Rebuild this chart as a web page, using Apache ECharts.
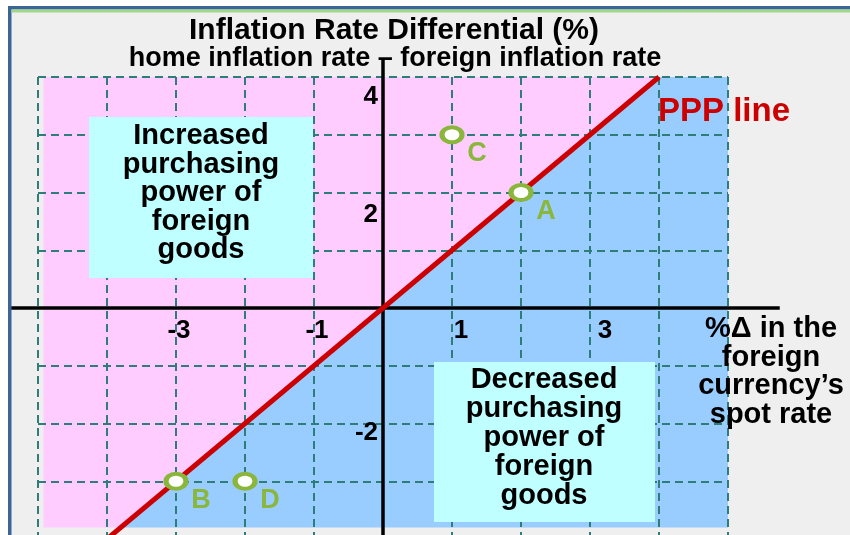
<!DOCTYPE html>
<html><head><meta charset="utf-8">
<script src="https://cdn.jsdelivr.net/npm/echarts@6/dist/echarts.min.js"></script>
<style>html,body{margin:0;padding:0;background:#fff}#c{width:850px;height:535px}</style>
</head><body><div id="c"></div>
<script>
// ---- data ----
const xTickLabels = [-3, -1, 1, 3];
const yTickLabels = [4, 2, -2];
const pointNames = ['A', 'B', 'C', 'D'];
const pointX = [2, -3, 1, -2];
const pointY = [2, -3, 3, -3];
const pppLine = [[-4, -4], [4, 4]];
const blueRegion = [[-3.8, -3.8], [4, 4], [5, 4], [5, -3.8]];
const pinkRegion = [[-4.92, -3.8], [-4.92, 4], [4, 4], [-3.8, -3.8]];
const xAxisLine = [[-5.4, 0], [5.75, 0]];
const yAxisLine = [[0, -4.2], [0, 4.32]];

// ---- styles ----
const FONT = '"Liberation Sans", Arial, sans-serif';
const GREEN = '#8ab63c';
const xShift = { '-3': 3, '-1': 3, '1': 9, '3': 15 };
const yShift = { '4': 20, '2': 22, '-2': 9 };

const xRich = {}, yRich = {};
xTickLabels.forEach((v, i) => {
  xRich['x' + i] = { fontSize: 26, fontWeight: 'bold', fontFamily: FONT, color: '#000', padding: [0, 0, 0, 2 * xShift[v]] };
});
yTickLabels.forEach((v, i) => {
  yRich['y' + i] = { fontSize: 26, fontWeight: 'bold', fontFamily: FONT, color: '#000', padding: [2 * yShift[v], 0, 0, 0] };
});

function region(points, color) {
  return {
    type: 'custom', coordinateSystem: 'cartesian2d', z: 0, silent: true, clip: false,
    data: [[0, 0]],
    renderItem: (params, api) => ({
      type: 'polygon',
      shape: { points: points.map(p => api.coord(p)) },
      style: { fill: color }
    })
  };
}
function polyline(points, color, width, z) {
  return {
    type: 'custom', coordinateSystem: 'cartesian2d', z: z, silent: true, clip: false,
    data: [[0, 0]],
    renderItem: (params, api) => ({
      type: 'polyline',
      shape: { points: points.map(p => api.coord(p)) },
      style: { stroke: color, lineWidth: width, fill: null }
    })
  };
}
function txt(text, x, y, size, color, align, lh, z) {
  return {
    type: 'text', z: z || 20, style: {
      text: text, x: x, y: y, fill: color || '#000',
      fontSize: size, fontWeight: 'bold', fontFamily: FONT,
      align: align || 'center', textAlign: align || 'center',
      verticalAlign: 'middle', textVerticalAlign: 'middle',
      lineHeight: lh || size
    }
  };
}

const GL = 38, GT = 77, GW = 690, GH = 462;
const grid = { left: GL, top: GT, width: GW, height: GH, containLabel: false, outerBoundsMode: 'none' };
const dashed = { color: '#2f7d79', width: 2, type: [8, 5] };

const option = {
  backgroundColor: '#efefef',
  animation: false,
  grid: grid,
  xAxis: {
    type: 'value', min: -5, max: 5, interval: 1, z: 1,
    position: 'bottom', offset: -GH / 2,
    axisLine: { show: false, onZero: false },
    axisTick: { show: false },
    splitLine: { show: true, lineStyle: dashed },
    axisLabel: {
      margin: 10,
      formatter: v => { const i = xTickLabels.indexOf(v); return i < 0 ? '' : '{x' + i + '|' + v + '}'; },
      rich: xRich
    }
  },
  yAxis: {
    type: 'value', min: -4, max: 4, interval: 1, z: 1,
    position: 'left', offset: -GW / 2,
    axisLine: { show: false, onZero: false },
    axisTick: { show: false },
    splitLine: { show: true, lineStyle: dashed },
    axisLabel: {
      margin: 5,
      formatter: v => { const i = yTickLabels.indexOf(v); return i < 0 ? '' : '{y' + i + '|' + v + '}'; },
      rich: yRich
    }
  },
  series: [
    region(pinkRegion, '#ffccff'),
    region(blueRegion, '#99ccff'),
    polyline(xAxisLine, '#000', 3.5, 5),
    polyline(yAxisLine, '#000', 3.5, 5),
    { type: 'line', data: pppLine, symbol: 'none', clip: true, z: 6, silent: true,
      lineStyle: { color: '#cc0000', width: 5 } },
    { type: 'scatter', z: 8, silent: true,
      data: pointX.map((x, i) => [x, pointY[i], pointNames[i]]),
      symbol: 'circle', symbolSize: [20, 15],
      itemStyle: { color: '#ffffff', borderColor: GREEN, borderWidth: 4.5, opacity: 1 },
      label: { show: true, position: 'inside', offset: [25, 19], formatter: p => p.data[2],
        color: GREEN, fontSize: 27, fontWeight: 'bold', fontFamily: FONT }
    }
  ],
  graphic: [
    { type: 'rect', z: 30, shape: { x: 0, y: 0, width: 850, height: 6 }, style: { fill: '#ffffff' } },
    { type: 'rect', z: 30, shape: { x: 0, y: 0, width: 8, height: 535 }, style: { fill: '#ffffff' } },
    { type: 'rect', z: 31, shape: { x: 8, y: 6, width: 842, height: 3.5 }, style: { fill: '#3b6597' } },
    { type: 'rect', z: 31, shape: { x: 8, y: 6, width: 3.5, height: 529 }, style: { fill: '#3b6597' } },
    { type: 'rect', z: 31, shape: { x: 11.5, y: 9.5, width: 839, height: 3 }, style: { fill: '#9fd88a' } },
    txt('Inflation Rate Differential (%)', 394, 31, 30),
    txt('home inflation rate \u2013 foreign inflation rate', 395, 59, 27),
    { type: 'rect', z: 15, shape: { x: 89, y: 117, width: 224, height: 161 }, style: { fill: '#bfffff' } },
    txt('Increased\npurchasing\npower of\nforeign\ngoods', 201, 193, 29, '#000', 'center', 28.5),
    { type: 'rect', z: 15, shape: { x: 434, y: 362, width: 221, height: 160 }, style: { fill: '#bfffff' } },
    txt('Decreased\npurchasing\npower of\nforeign\ngoods', 544, 438, 29, '#000', 'center', 29),
    txt('PPP line', 658, 112, 33, '#cc0000', 'left'),
    txt('%\u0394 in the\nforeign\ncurrency\u2019s\nspot rate', 771, 372, 29, '#000', 'center', 28.7, 0)
  ]
};
echarts.init(document.getElementById('c')).setOption(option);
</script></body></html>
